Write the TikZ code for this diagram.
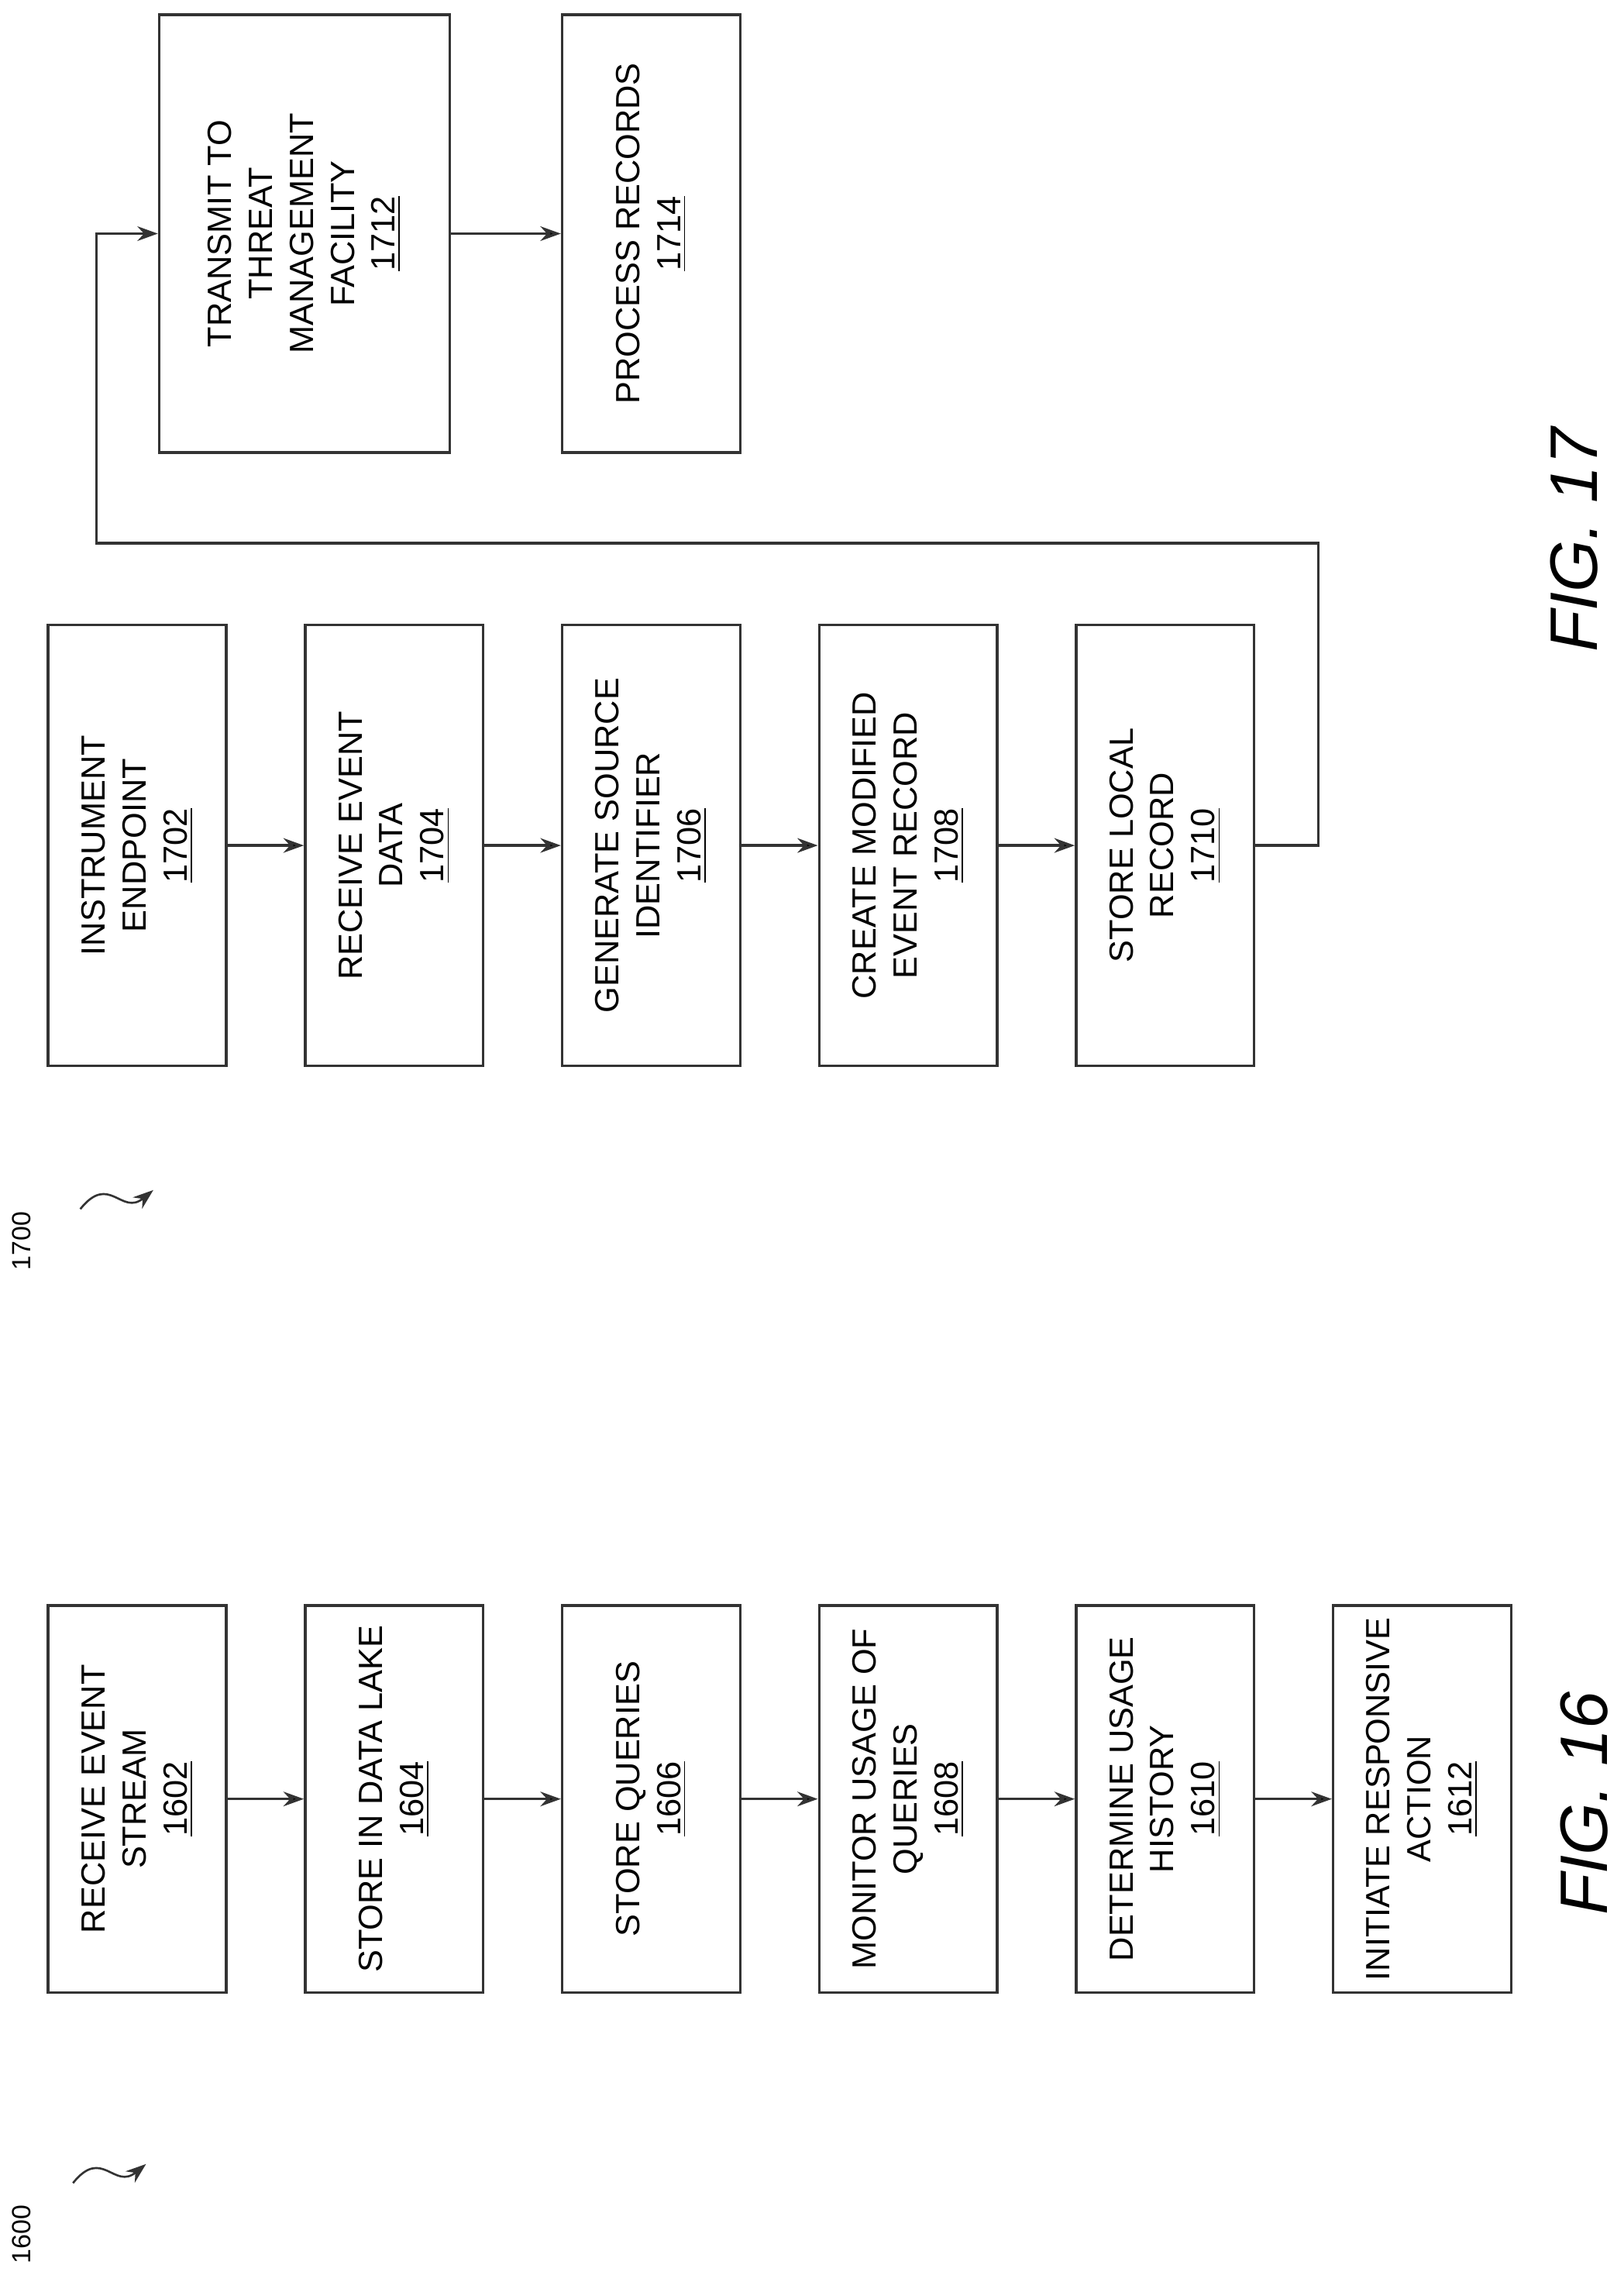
\documentclass[tikz,border=0pt]{standalone}
\usepackage{fontspec}
\setmainfont{Liberation Sans}
\usetikzlibrary{arrows.meta}
\usetikzlibrary{positioning}
\tikzset{
  stepbox/.style={draw=black!80, line width=0.9pt, rotate=90, align=center, font=\fontsize{11.5}{14}\selectfont, inner sep=2pt},
  shortbox/.style={stepbox, minimum width=132.5pt, minimum height=61pt},
  longbox/.style={stepbox, minimum width=151pt, minimum height=61pt},
  flow/.style={-{Stealth[length=7pt,width=5pt]}, draw=black!80, line width=0.9pt}
}
\begin{document}
\begin{tikzpicture}[x=0.5pt, y=-0.5pt]
    \useasboundingbox (0,0) rectangle (1112,1558);
    % fig 16
    \node[shortbox] (A1) at (94,1232) {RECEIVE EVENT\\STREAM\\\underline{1602}};
    \node[shortbox] (A2) at (270,1232) {STORE IN DATA LAKE\\\underline{1604}};
    \node[shortbox] (A3) at (446,1232) {STORE QUERIES\\\underline{1606}};
    \node[shortbox] (A4) at (622,1232) {MONITOR USAGE OF\\QUERIES\\\underline{1608}};
    \node[shortbox] (A5) at (798,1232) {DETERMINE USAGE\\HISTORY\\\underline{1610}};
    \node[shortbox] (A6) at (974,1232) {INITIATE RESPONSIVE\\ACTION\\\underline{1612}};
    \path [flow] (A1) edge (A2);
    \path [flow] (A2) edge (A3);
    \path [flow] (A3) edge (A4);
    \path [flow] (A4) edge (A5);
    \path [flow] (A5) edge (A6);
    % fig 17
    \node[longbox] (B1) at (94,579) {INSTRUMENT\\ENDPOINT\\\underline{1702}};
    \node[longbox] (B2) at (270,579) {RECEIVE EVENT\\DATA\\\underline{1704}};
    \node[longbox] (B3) at (446,579) {GENERATE SOURCE\\IDENTIFIER\\\underline{1706}};
    \node[longbox] (B4) at (622,579) {CREATE MODIFIED\\EVENT RECORD\\\underline{1708}};
    \node[longbox] (B5) at (798,579) {STORE LOCAL\\RECORD\\\underline{1710}};
    \node[stepbox, minimum width=150pt, minimum height=99.5pt] (B6) at (208.5,160) {TRANSMIT TO\\THREAT\\MANAGEMENT\\FACILITY\\\underline{1712}};
    \node[longbox, minimum width=150pt] (B7) at (446,160) {PROCESS RECORDS\\\underline{1714}};
    \path [flow] (B1) edge (B2);
    \path [flow] (B2) edge (B3);
    \path [flow] (B3) edge (B4);
    \path [flow] (B4) edge (B5);
    \path [flow] (B6) edge (B7);
    \draw [flow] (B5.south) -- (903,579) -- (903,372) -- (66,372) -- (66,160) -- (B6.north);
    % labels
    \node[rotate=90, font=\fontsize{9}{10}\selectfont] (L16) at (15,1530) {1600};
    \coordinate (S16) at (50,1495);
    \draw [flow, line width=0.7pt] (S16) .. controls (70,1470) and (78,1500) .. (100,1482);
    \node[rotate=90, font=\fontsize{9}{10}\selectfont] (L17) at (15,850) {1700};
    \coordinate (S17) at (55,828);
    \draw [flow, line width=0.7pt] (S17) .. controls (75,803) and (83,833) .. (105,815);
    \node[rotate=90, font=\fontsize{23}{28}\itshape] (F16) at (1085,1235) {FIG. 16};
    \node[rotate=90, font=\fontsize{23}{28}\itshape] (F17) at (1078,370) {FIG. 17};
\end{tikzpicture}
\end{document}
